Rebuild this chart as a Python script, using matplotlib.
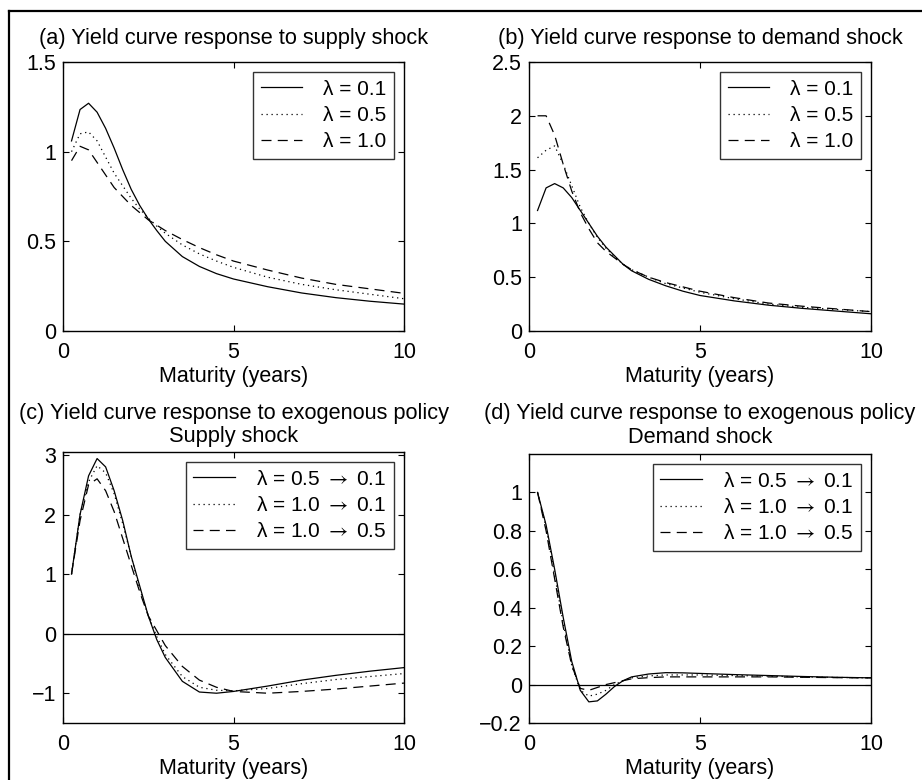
import matplotlib
matplotlib.use("Agg")
import matplotlib.pyplot as plt
from matplotlib.lines import Line2D

plt.rcParams['font.family'] = ['Liberation Sans', 'DejaVu Sans']
plt.rcParams['font.size'] = 15
plt.rcParams['axes.unicode_minus'] = True
plt.rcParams['mathtext.fontset'] = 'stix'

# maturities (years)
mat = [0.25, 0.5, 0.75, 1.0, 1.25, 1.5, 1.75, 2.0, 2.25, 2.5, 2.75, 3.0,
       3.5, 4.0, 4.5, 5.0, 6.0, 7.0, 8.0, 9.0, 10.0]

# (a) supply shock
a_l01 = [1.06, 1.235, 1.27, 1.22, 1.13, 1.02, 0.90, 0.79, 0.70, 0.625, 0.56, 0.50,
         0.415, 0.36, 0.32, 0.29, 0.247, 0.212, 0.186, 0.166, 0.15]
a_l05 = [1.00, 1.10, 1.11, 1.06, 0.97, 0.88, 0.81, 0.74, 0.68, 0.63, 0.585, 0.545,
         0.48, 0.43, 0.39, 0.355, 0.30, 0.26, 0.23, 0.205, 0.18]
a_l10 = [0.95, 1.03, 1.01, 0.94, 0.87, 0.80, 0.75, 0.70, 0.66, 0.62, 0.59, 0.56,
         0.51, 0.465, 0.425, 0.39, 0.34, 0.295, 0.26, 0.235, 0.21]

# (b) demand shock
b_l01 = [1.12, 1.33, 1.37, 1.33, 1.24, 1.12, 1.00, 0.88, 0.78, 0.70, 0.62, 0.56,
         0.48, 0.42, 0.37, 0.33, 0.28, 0.24, 0.21, 0.185, 0.16]
b_l05 = [1.61, 1.68, 1.72, 1.55, 1.35, 1.15, 1.00, 0.87, 0.77, 0.69, 0.62, 0.57,
         0.50, 0.44, 0.40, 0.36, 0.30, 0.25, 0.22, 0.20, 0.18]
b_l10 = [2.00, 2.00, 1.82, 1.55, 1.30, 1.10, 0.95, 0.82, 0.74, 0.68, 0.62, 0.57,
         0.50, 0.45, 0.41, 0.37, 0.31, 0.26, 0.23, 0.205, 0.18]

# (c) exogenous policy, supply shock
c_05_01 = [1.0, 2.0, 2.65, 2.94, 2.8, 2.4, 1.9, 1.3, 0.8, 0.3, -0.1, -0.4,
           -0.8, -0.98, -1.0, -0.97, -0.88, -0.78, -0.70, -0.63, -0.57]
c_10_01 = [1.0, 2.0, 2.55, 2.82, 2.7, 2.35, 1.85, 1.3, 0.75, 0.3, -0.05, -0.35,
           -0.72, -0.9, -0.95, -0.96, -0.92, -0.84, -0.77, -0.72, -0.67]
c_10_05 = [1.0, 1.9, 2.5, 2.6, 2.4, 2.05, 1.6, 1.15, 0.7, 0.3, 0.05, -0.2,
           -0.55, -0.78, -0.9, -0.97, -1.0, -0.97, -0.93, -0.88, -0.83]

# (d) exogenous policy, demand shock
d_05_01 = [1.0, 0.83, 0.6, 0.35, 0.12, -0.03, -0.09, -0.085, -0.05, -0.01, 0.02, 0.04,
           0.055, 0.062, 0.061, 0.058, 0.052, 0.047, 0.042, 0.038, 0.035]
d_10_01 = [1.0, 0.82, 0.57, 0.32, 0.10, -0.03, -0.06, -0.05, -0.03, 0.0, 0.02, 0.035,
           0.045, 0.05, 0.05, 0.05, 0.047, 0.044, 0.04, 0.037, 0.035]
d_10_05 = [1.0, 0.80, 0.55, 0.30, 0.10, -0.02, -0.03, -0.015, 0.0, 0.01, 0.02, 0.03,
           0.036, 0.04, 0.04, 0.04, 0.04, 0.04, 0.038, 0.036, 0.035]

labels_ab = ['λ = 0.1', 'λ = 0.5', 'λ = 1.0']
labels_cd = ['λ = 0.5 $\\rightarrow$ 0.1', 'λ = 1.0 $\\rightarrow$ 0.1', 'λ = 1.0 $\\rightarrow$ 0.5']

styles = [dict(ls='-'), dict(ls=(0, (1, 3))), dict(ls=(0, (8, 5)))]

W, H = 922, 780
fig = plt.figure(figsize=(W / 100, H / 100), dpi=100, facecolor='white')


def px_axes(left, top, right, bottom):
    return fig.add_axes([left / W, 1 - bottom / H, (right - left) / W, (bottom - top) / H])


def style_ax(ax, ylim, yticks, yticklabels=None):
    ax.set_xlim(0, 10)
    ax.set_ylim(*ylim)
    ax.set_xticks([0, 5, 10])
    ax.set_yticks(yticks)
    if yticklabels is not None:
        ax.set_yticklabels(yticklabels)
    ax.tick_params(direction='in', length=4, width=0.8, top=True, right=True, labelsize=15.5)
    ax.tick_params(axis='x', pad=8)
    ax.tick_params(axis='y', pad=5)
    for s in ax.spines.values():
        s.set_linewidth(1.0)
    ax.set_xlabel('Maturity (years)', labelpad=2, fontsize=15.5)


def draw(ax, series, labels):
    for y, lab, st in zip(series, labels, styles):
        ax.plot(mat, y, color='black', lw=0.9, label=lab, **st)
    leg = ax.legend(loc='upper right', frameon=True, fancybox=False, borderaxespad=0.5,
                    handlelength=2.0, labelspacing=0.35, borderpad=0.35, handletextpad=1.0,
                    fontsize=15)
    leg.get_frame().set_edgecolor('black')
    leg.get_frame().set_linewidth(1.0)


ax_a = px_axes(63, 62, 404, 331)
draw(ax_a, [a_l01, a_l05, a_l10], labels_ab)
style_ax(ax_a, (0, 1.5), [0, 0.5, 1, 1.5], ['0', '0.5', '1', '1.5'])
ax_a.set_title('(a) Yield curve response to supply shock', pad=13, fontsize=15.7)

ax_b = px_axes(529, 62, 871, 331)
draw(ax_b, [b_l01, b_l05, b_l10], labels_ab)
style_ax(ax_b, (0, 2.5), [0, 0.5, 1, 1.5, 2, 2.5], ['0', '0.5', '1', '1.5', '2', '2.5'])
ax_b.set_title('(b) Yield curve response to demand shock', pad=13, fontsize=15.7)

ax_c = px_axes(63, 452, 404, 723)
ax_c.axhline(0, color='black', lw=0.9)
draw(ax_c, [c_05_01, c_10_01, c_10_05], labels_cd)
style_ax(ax_c, (-1.5, 3.05), [-1, 0, 1, 2, 3])
ax_c.set_title('(c) Yield curve response to exogenous policy\nSupply shock', pad=7,
               linespacing=1.15, fontsize=15.7)

ax_d = px_axes(529, 454, 871, 723)
ax_d.axhline(0, color='black', lw=0.9)
draw(ax_d, [d_05_01, d_10_01, d_10_05], labels_cd)
style_ax(ax_d, (-0.2, 1.2), [-0.2, 0, 0.2, 0.4, 0.6, 0.8, 1.0],
         ['\u22120.2', '0', '0.2', '0.4', '0.6', '0.8', '1'])
ax_d.set_title('(d) Yield curve response to exogenous policy\nDemand shock', pad=8,
               linespacing=1.15, fontsize=15.7)

# outer frame (left and top edges)
fig.add_artist(Line2D([9 / W, 9 / W], [0, 1 - 11 / H], transform=fig.transFigure, color='black', lw=1.6))
fig.add_artist(Line2D([9 / W, 1], [1 - 11 / H, 1 - 11 / H], transform=fig.transFigure, color='black', lw=1.6))

fig.savefig('out.png', dpi=100, facecolor='white')
